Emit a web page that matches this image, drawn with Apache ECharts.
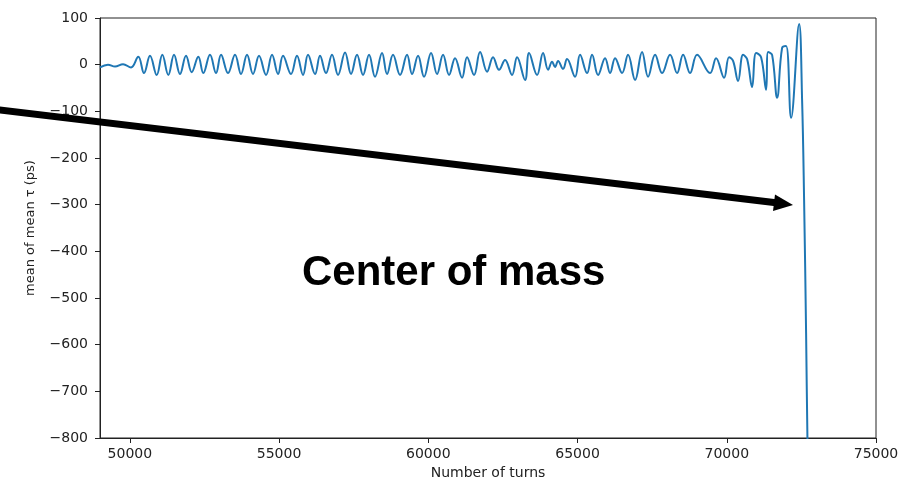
<!DOCTYPE html>
<html>
<head>
<meta charset="utf-8">
<script src="https://cdn.jsdelivr.net/npm/echarts@6/dist/echarts.min.js"></script>
<style>html,body{margin:0;padding:0;background:#fff}#c{width:900px;height:482px}</style>
</head>
<body>
<div id="c"></div>
<script>
// Number of turns at each local extreme of the signal
const turns = [
  49000, 49268, 49503, 49771, 50039, 50283, 50474, 50676, 50900, 51088,
  51289, 51480, 51681, 51882, 52073, 52294, 52462, 52686, 52887, 53055,
  53289, 53524, 53725, 53926, 54127, 54328, 54563, 54764, 54965, 55132,
  55400, 55601, 55803, 55970, 56205, 56372, 56573, 56774, 56975, 57210,
  57411, 57612, 57813, 58014, 58215, 58450, 58617, 58818, 59053, 59288,
  59455, 59656, 59857, 60092, 60293, 60494, 60695, 60896, 61131, 61298,
  61533, 61734, 61969, 62169, 62370, 62572, 62806, 62974, 63242, 63376,
  63644, 63845, 64013, 64147, 64247, 64348, 64515, 64649, 64917, 65085,
  65319, 65487, 65688, 65923, 66090, 66258, 66492, 66693, 66928, 67162,
  67363, 67598, 67833, 68101, 68335, 68537, 68771, 69005, 69440, 69642,
  69910, 70077, 70211, 70379, 70547, 70681, 70848, 70982, 71150, 71317,
  71385, 71519, 71686, 71854, 71988, 72155, 72424, 72524, 72591, 72658,
  72702, 72740
];
// mean of mean tau (ps) at those turns
const tau = [
  -6, 0, -4, 1, -6, 17, -18, 19, -22, 21,
  -22, 21, -20, 19, -16, 17, -18, 21, -18, 21,
  -18, 21, -20, 21, -20, 19, -22, 21, -20, 19,
  -20, 19, -22, 21, -20, 19, -18, 21, -22, 26,
  -20, 21, -22, 21, -26, 25, -20, 21, -22, 21,
  -20, 19, -26, 25, -20, 21, -22, 14, -28, 16,
  -22, 27, -15, 16, -11, 10, -22, 16, -33, 25,
  -22, 25, -11, 6, -5, 8, -9, 12, -26, 21,
  -18, 21, -22, 14, -18, 14, -18, 21, -33, 27,
  -26, 21, -18, 21, -18, 21, -18, 21, -18, 14,
  -28, 16, 8, -35, 21, 12, -48, 25, 16, -54,
  27, 21, -71, 36, 40, -114, 87, -76, -290, -575,
  -798, -900
];
const xTicks = [50000, 55000, 60000, 65000, 70000, 75000];
const yTicks = [-800, -700, -600, -500, -400, -300, -200, -100, 0, 100];

const series = turns.map((t, i) => [t, tau[i]]);

const chart = echarts.init(document.getElementById('c'), null, {renderer: 'canvas'});
const axisColor = '#222';
const font = 'DejaVu Sans';
chart.setOption({
  animation: false,
  backgroundColor: '#fff',
  grid: {left: 100, right: 24, top: 18, bottom: 44, containLabel: false, outerBoundsMode: 'none',
    show: true, borderColor: axisColor, borderWidth: 1, backgroundColor: 'transparent'},
  xAxis: {
    type: 'value', min: 49000, max: 75000,
    name: 'Number of turns', nameLocation: 'middle', nameGap: 27,
    nameTextStyle: {fontFamily: font, fontSize: 14, color: '#222'},
    axisLine: {show: true, onZero: false, lineStyle: {color: axisColor, width: 1}},
    axisTick: {show: true, length: 5, lineStyle: {color: axisColor}, customValues: xTicks},
    axisLabel: {fontFamily: font, fontSize: 14, color: '#222', margin: 9, customValues: xTicks,
      formatter: v => String(v)},
    splitLine: {show: false}
  },
  yAxis: {
    type: 'value', min: yTicks[0], max: yTicks[yTicks.length - 1], interval: 100,
    name: 'mean of mean τ (ps)', nameLocation: 'middle', nameGap: 63, nameRotate: 90,
    nameTextStyle: {fontFamily: font, fontSize: 13, color: '#222'},
    axisLine: {show: true, onZero: false, lineStyle: {color: axisColor, width: 1}},
    axisTick: {show: true, length: 5, lineStyle: {color: axisColor}},
    axisLabel: {fontFamily: font, fontSize: 14, color: '#222', margin: 12,
      formatter: v => String(v).replace('-', '\u2212')},
    splitLine: {show: false}
  },
  series: [{
    type: 'line', data: series, smooth: 0.4, showSymbol: false, clip: true,
    lineStyle: {color: '#1f77b4', width: 2}
  }],
  graphic: [
    {type: 'line', z: 100, shape: {x1: -5, y1: 109.4, x2: 776, y2: 202.7},
     style: {stroke: '#000', lineWidth: 7}},
    {type: 'polygon', z: 100, shape: {points: [[793, 205], [775, 194.5], [773, 211]]},
     style: {fill: '#000'}},
    {type: 'text', z: 100, left: 302, top: 252,
     style: {text: 'Center of mass', font: 'bold 42px "Liberation Sans", Arial, sans-serif', fill: '#000'}}
  ]
});
</script>
</body>
</html>
